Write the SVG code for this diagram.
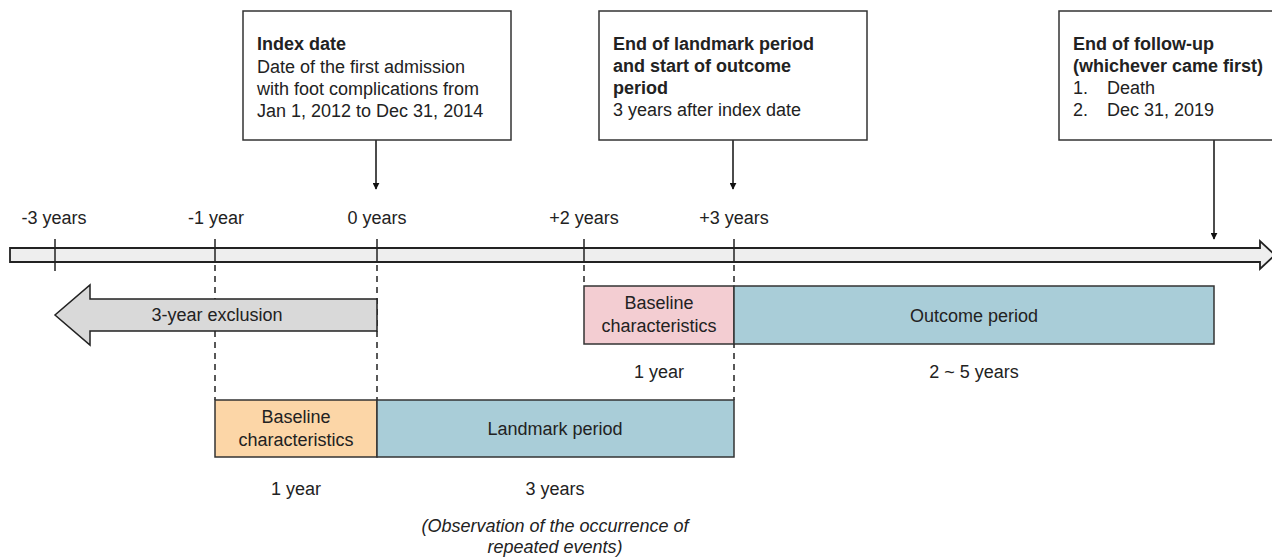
<svg xmlns="http://www.w3.org/2000/svg" width="1272" height="559" viewBox="0 0 1272 559">
<defs>
<marker id="ah" viewBox="0 0 10 10" refX="9" refY="5" markerWidth="7" markerHeight="7" markerUnits="userSpaceOnUse" orient="auto"><path d="M0,0 L10,5 L0,10 z" fill="#111"/></marker>
<style>
text{font-family:"Liberation Sans",Arial,sans-serif;font-size:18px;fill:#222}
.b{font-weight:bold}
.c{text-anchor:middle}
.i{font-style:italic}
.box{fill:#fff;stroke:#333;stroke-width:1.5}
.dash{stroke:#222;stroke-width:1.5;stroke-dasharray:6 5;fill:none}
.tick{stroke:#222;stroke-width:1.5}
.conn{stroke:#111;stroke-width:1.5;fill:none}
.per{stroke:#333;stroke-width:1.5}
</style>
</defs>
<rect width="1272" height="559" fill="#fff"/>

<g id="timeline">
<path d="M10,248 H1260 V241 L1275,255 L1260,269 V262 H10 Z" fill="#eeeeee" stroke="#222" stroke-width="1.8"/>
<line class="tick" x1="55" y1="239" x2="55" y2="271"/>
<line class="tick" x1="215" y1="239" x2="215" y2="262"/>
<line class="tick" x1="377" y1="239" x2="377" y2="262"/>
<line class="tick" x1="584" y1="239" x2="584" y2="262"/>
<line class="tick" x1="734" y1="239" x2="734" y2="262"/>
<text class="c" x="54" y="224">-3 years</text>
<text class="c" x="216" y="224">-1 year</text>
<text class="c" x="377" y="224">0 years</text>
<text class="c" x="584" y="224">+2 years</text>
<text class="c" x="734" y="224">+3 years</text>
</g>

<g id="connectors">
<line class="dash" x1="215" y1="265" x2="215" y2="400"/>
<line class="dash" x1="377" y1="265" x2="377" y2="400"/>
<line class="dash" x1="584" y1="265" x2="584" y2="286"/>
<line class="dash" x1="734" y1="265" x2="734" y2="400"/>
<line class="conn" x1="376" y1="140" x2="376" y2="189" marker-end="url(#ah)"/>
<line class="conn" x1="733" y1="140" x2="733" y2="189" marker-end="url(#ah)"/>
<line class="conn" x1="1214" y1="140" x2="1214" y2="239" marker-end="url(#ah)"/>
</g>

<g id="exclusion">
<path d="M377,299 V331 H90 V345 L55,315 L90,285 V299 Z" fill="#d9d9d9" stroke="#222" stroke-width="1.5"/>
<text class="c" x="217" y="321">3-year exclusion</text>
</g>

<g id="index-date">
<rect class="box" x="243" y="11" width="268" height="129"/>
<text class="b" x="257" y="50">Index date</text>
<text x="257" y="73">Date of the first admission</text>
<text x="257" y="95">with foot complications from</text>
<text x="257" y="117">Jan 1, 2012 to Dec 31, 2014</text>
</g>

<g id="end-landmark">
<rect class="box" x="599" y="11" width="268" height="129"/>
<text class="b" x="613" y="50">End of landmark period</text>
<text class="b" x="613" y="72">and start of outcome</text>
<text class="b" x="613" y="94">period</text>
<text x="613" y="116">3 years after index date</text>
</g>

<g id="end-followup">
<rect class="box" x="1059" y="11" width="230" height="129"/>
<text class="b" x="1073" y="50">End of follow-up</text>
<text class="b" x="1073" y="72">(whichever came first)</text>
<text x="1073" y="94">1.</text><text x="1107" y="94">Death</text>
<text x="1073" y="116">2.</text><text x="1107" y="116">Dec 31, 2019</text>
</g>

<g id="baseline-outcome">
<rect class="per" x="584" y="286" width="150" height="58" fill="#f3cdd2"/>
<text class="c" x="659" y="309">Baseline</text>
<text class="c" x="659" y="332">characteristics</text>
<text class="c" x="659" y="378">1 year</text>
</g>

<g id="outcome-period">
<rect class="per" x="734" y="286" width="480" height="58" fill="#a9cdd8"/>
<text class="c" x="974" y="322">Outcome period</text>
<text class="c" x="974" y="378">2 ~ 5 years</text>
</g>

<g id="baseline-landmark">
<rect class="per" x="215" y="400" width="162" height="57" fill="#fcd6a7"/>
<text class="c" x="296" y="423">Baseline</text>
<text class="c" x="296" y="446">characteristics</text>
<text class="c" x="296" y="495">1 year</text>
</g>

<g id="landmark-period">
<rect class="per" x="377" y="400" width="357" height="57" fill="#a9cdd8"/>
<text class="c" x="555" y="435">Landmark period</text>
<text class="c" x="555" y="495">3 years</text>
<text class="c i" x="555" y="532">(Observation of the occurrence of</text>
<text class="c i" x="555" y="553">repeated events)</text>
</g>
</svg>
